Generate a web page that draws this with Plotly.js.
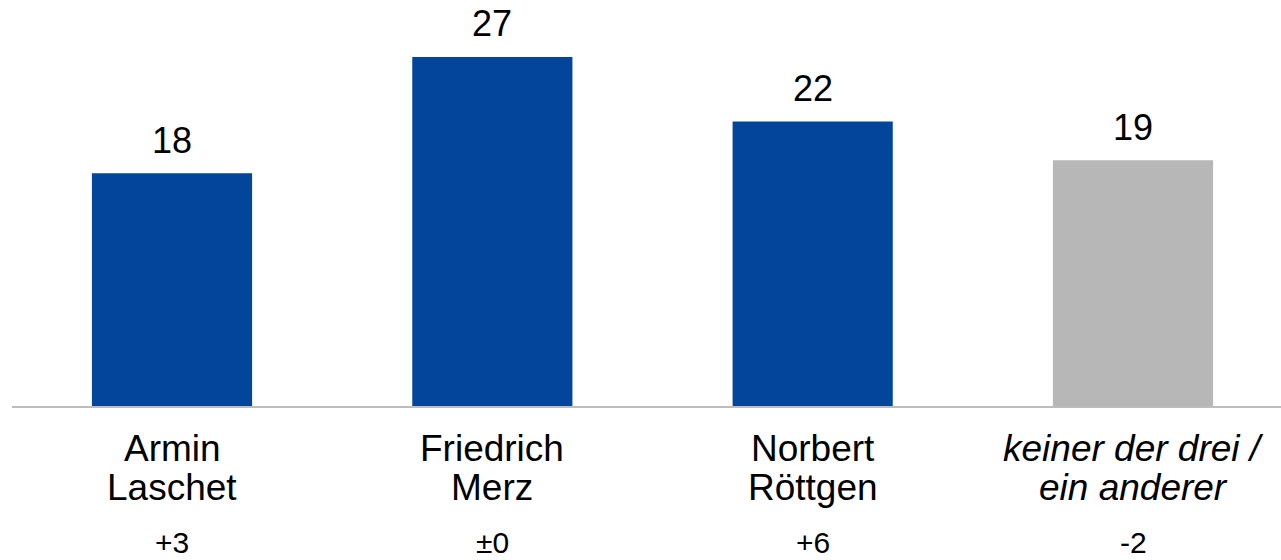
<!DOCTYPE html>
<html>
<head>
<meta charset="utf-8">
<script src="https://cdn.plot.ly/plotly-3.0.1.min.js"></script>
<style>html,body{margin:0;padding:0;background:#fff;}#chart{width:1281px;height:560px;}</style>
</head>
<body>
<div id="chart"></div>
<script>
var categories = ["Armin<br>Laschet", "Friedrich<br>Merz", "Norbert<br>Röttgen", "keiner der drei /<br>ein anderer"];
var values = [18, 27, 22, 19];
var changes = ["+3", "±0", "+6", "-2"];
var colors = ["#03459a", "#03459a", "#03459a", "#b7b7b7"];
var italic = [false, false, false, true];

var FONT = "Liberation Sans, Arial, sans-serif";
var idx = categories.map(function(_, i){ return i; });

var annotations = [];
idx.forEach(function(i){
  annotations.push({
    x: i, y: values[i], xref: "x", yref: "y",
    text: String(values[i]), showarrow: false,
    yanchor: "middle", yshift: 33,
    font: {family: FONT, size: 36, color: "#000"}
  });
  var lines = categories[i].split("<br>");
  lines.forEach(function(line, j){
    annotations.push({
      x: i, y: 0, xref: "x", yref: "paper",
      text: italic[i] ? "<i>" + line + "</i>" : line, showarrow: false,
      yanchor: "middle", yshift: -(448.5 - 406) - j * 39,
      font: {family: FONT, size: 37, color: "#000"}
    });
  });
  annotations.push({
    x: i, y: 0, xref: "x", yref: "paper",
    text: changes[i], showarrow: false,
    yanchor: "middle", yshift: -(542.5 - 406),
    font: {family: FONT, size: 30, color: "#000"}
  });
});

var trace = {
  type: "bar",
  x: idx,
  y: values,
  width: 0.5,
  marker: {color: colors, line: {width: 0}},
  hoverinfo: "none"
};

var layout = {
  width: 1281, height: 560,
  margin: {l: 12, r: 0, t: 0, b: 154, pad: 0},
  paper_bgcolor: "#fff", plot_bgcolor: "#fff",
  showlegend: false,
  xaxis: {
    range: [-0.4995, 3.462],
    showticklabels: false, ticks: "", showgrid: false, zeroline: false,
    showline: true, linecolor: "#bdbdbd", linewidth: 2
  },
  yaxis: {
    range: [0, 406 / 12.93],
    visible: false, showgrid: false, zeroline: false
  },
  annotations: annotations
};

Plotly.newPlot("chart", [trace], layout, {displayModeBar: false, staticPlot: true});
</script>
</body>
</html>
